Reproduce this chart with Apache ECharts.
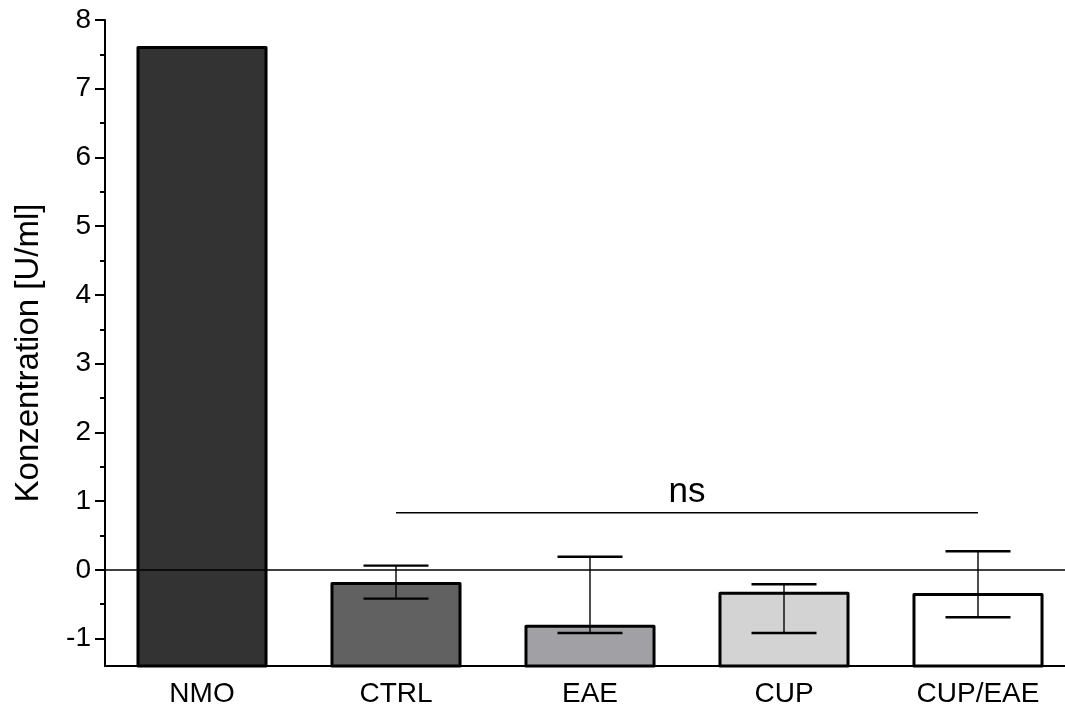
<!DOCTYPE html>
<html>
<head>
<meta charset="utf-8">
<script src="https://cdn.jsdelivr.net/npm/echarts@6/dist/echarts.min.js"></script>
<style>html,body{margin:0;padding:0;background:#fff}#c{width:1065px;height:709px}</style>
</head>
<body>
<div id="c"></div>
<script>
// ---- data ----
const categories = ['NMO', 'CTRL', 'EAE', 'CUP', 'CUP/EAE'];
const means = [7.6, -0.2, -0.82, -0.34, -0.36];
const errLow = [null, -0.42, -0.92, -0.92, -0.69];
const errHigh = [null, 0.06, 0.19, -0.21, 0.27];
const yTickValues = [-1, 0, 1, 2, 3, 4, 5, 6, 7, 8];
const yMinorTickValues = [-0.5, 0.5, 1.5, 2.5, 3.5, 4.5, 5.5, 6.5, 7.5];
const yMin = -1.4, yMax = 8;
const sigFrom = 'CTRL', sigTo = 'CUP/EAE', sigLevel = 0.83, sigLabel = 'ns';
const yTitle = 'Konzentration [U/ml]';

// ---- styles ----
const barColors = ['#333333', '#616161', '#a1a1a5', '#d3d3d3', '#ffffff'];
const FONT = '"Liberation Sans", Arial, sans-serif';

const chart = echarts.init(document.getElementById('c'), null, {renderer: 'canvas'});

const barData = categories.map((c, i) => [i, means[i]]);
const errData = [];
categories.forEach((c, i) => { if (errLow[i] != null) errData.push([i, errLow[i], errHigh[i]]); });

chart.setOption({
  animation: false,
  backgroundColor: '#fff',
  grid: {left: 105, top: 20, width: 970, height: 646, containLabel: false, outerBoundsMode: 'none'},
  xAxis: {
    type: 'category',
    data: categories,
    boundaryGap: true,
    axisLine: {onZero: false, lineStyle: {color: '#000', width: 2}},
    axisTick: {alignWithLabel: true, length: 10, lineStyle: {color: '#000', width: 2}},
    axisLabel: {color: '#000', fontSize: 28, fontFamily: FONT, margin: 14, interval: 0},
    splitLine: {show: false}
  },
  yAxis: [{
    type: 'value', min: yMin, max: yMax,
    axisLine: {show: true, lineStyle: {color: '#000', width: 2}},
    axisTick: {show: true, customValues: yTickValues, length: 10, lineStyle: {color: '#000', width: 2}},
    axisLabel: {customValues: yTickValues, color: '#000', fontSize: 28, fontFamily: FONT, margin: 14,
      formatter: v => String(v)},
    splitLine: {show: false}
  }, {
    type: 'value', min: yMin, max: yMax, position: 'left',
    axisLine: {show: false},
    axisTick: {show: true, customValues: yMinorTickValues, length: 5, lineStyle: {color: '#000', width: 2}},
    axisLabel: {show: false},
    splitLine: {show: false}
  }],
  graphic: [{
    type: 'text', x: 29, y: 353, rotation: Math.PI / 2,
    style: {text: yTitle, fill: '#000', font: '33px ' + FONT, align: 'center', verticalAlign: 'middle'}
  }],
  series: [{
    type: 'custom',
    name: 'bars',
    data: barData,
    z: 2,
    renderItem: function (params, api) {
      const i = api.value(0), v = api.value(1);
      const top = api.coord([i, v]);
      const bot = api.coord([i, yMin]);
      const w = api.size([1, 0])[0] * 0.66;
      return {
        type: 'rect',
        shape: {x: top[0] - w / 2, y: top[1], width: w, height: bot[1] - top[1]},
        style: {fill: barColors[params.dataIndex], stroke: '#000', lineWidth: 3, lineJoin: 'round'}
      };
    }
  }, {
    type: 'custom',
    name: 'err',
    data: errData,
    z: 4,
    renderItem: function (params, api) {
      const i = api.value(0);
      const lo = api.coord([i, api.value(1)]);
      const hi = api.coord([i, api.value(2)]);
      const cw = api.size([1, 0])[0] * 0.335;
      return {
        type: 'group',
        children: [
          {type: 'line', shape: {x1: lo[0], y1: lo[1], x2: hi[0], y2: hi[1]}, style: {stroke: '#000', lineWidth: 1.4}},
          {type: 'line', shape: {x1: hi[0] - cw / 2, y1: hi[1], x2: hi[0] + cw / 2, y2: hi[1]}, style: {stroke: '#000', lineWidth: 2.4}},
          {type: 'line', shape: {x1: lo[0] - cw / 2, y1: lo[1], x2: lo[0] + cw / 2, y2: lo[1]}, style: {stroke: '#000', lineWidth: 2.4}}
        ]
      };
    },
    markLine: {
      silent: true, symbol: 'none', z: 5,
      label: {show: false},
      lineStyle: {color: '#000', width: 1.5, type: 'solid'},
      data: [{yAxis: 0}]
    }
  }, {
    type: 'custom',
    name: 'sig',
    data: [[categories.indexOf(sigFrom), categories.indexOf(sigTo), sigLevel]],
    z: 5,
    renderItem: function (params, api) {
      const a = api.coord([api.value(0), api.value(2)]);
      const b = api.coord([api.value(1), api.value(2)]);
      return {
        type: 'group',
        children: [
          {type: 'line', shape: {x1: a[0], y1: a[1], x2: b[0], y2: b[1]}, style: {stroke: '#000', lineWidth: 1.5}},
          {type: 'text', x: (a[0] + b[0]) / 2, y: a[1] - 3,
           style: {text: sigLabel, fill: '#000', font: '35px ' + FONT, align: 'center', verticalAlign: 'bottom'}}
        ]
      };
    }
  }]
});
</script>
</body>
</html>
